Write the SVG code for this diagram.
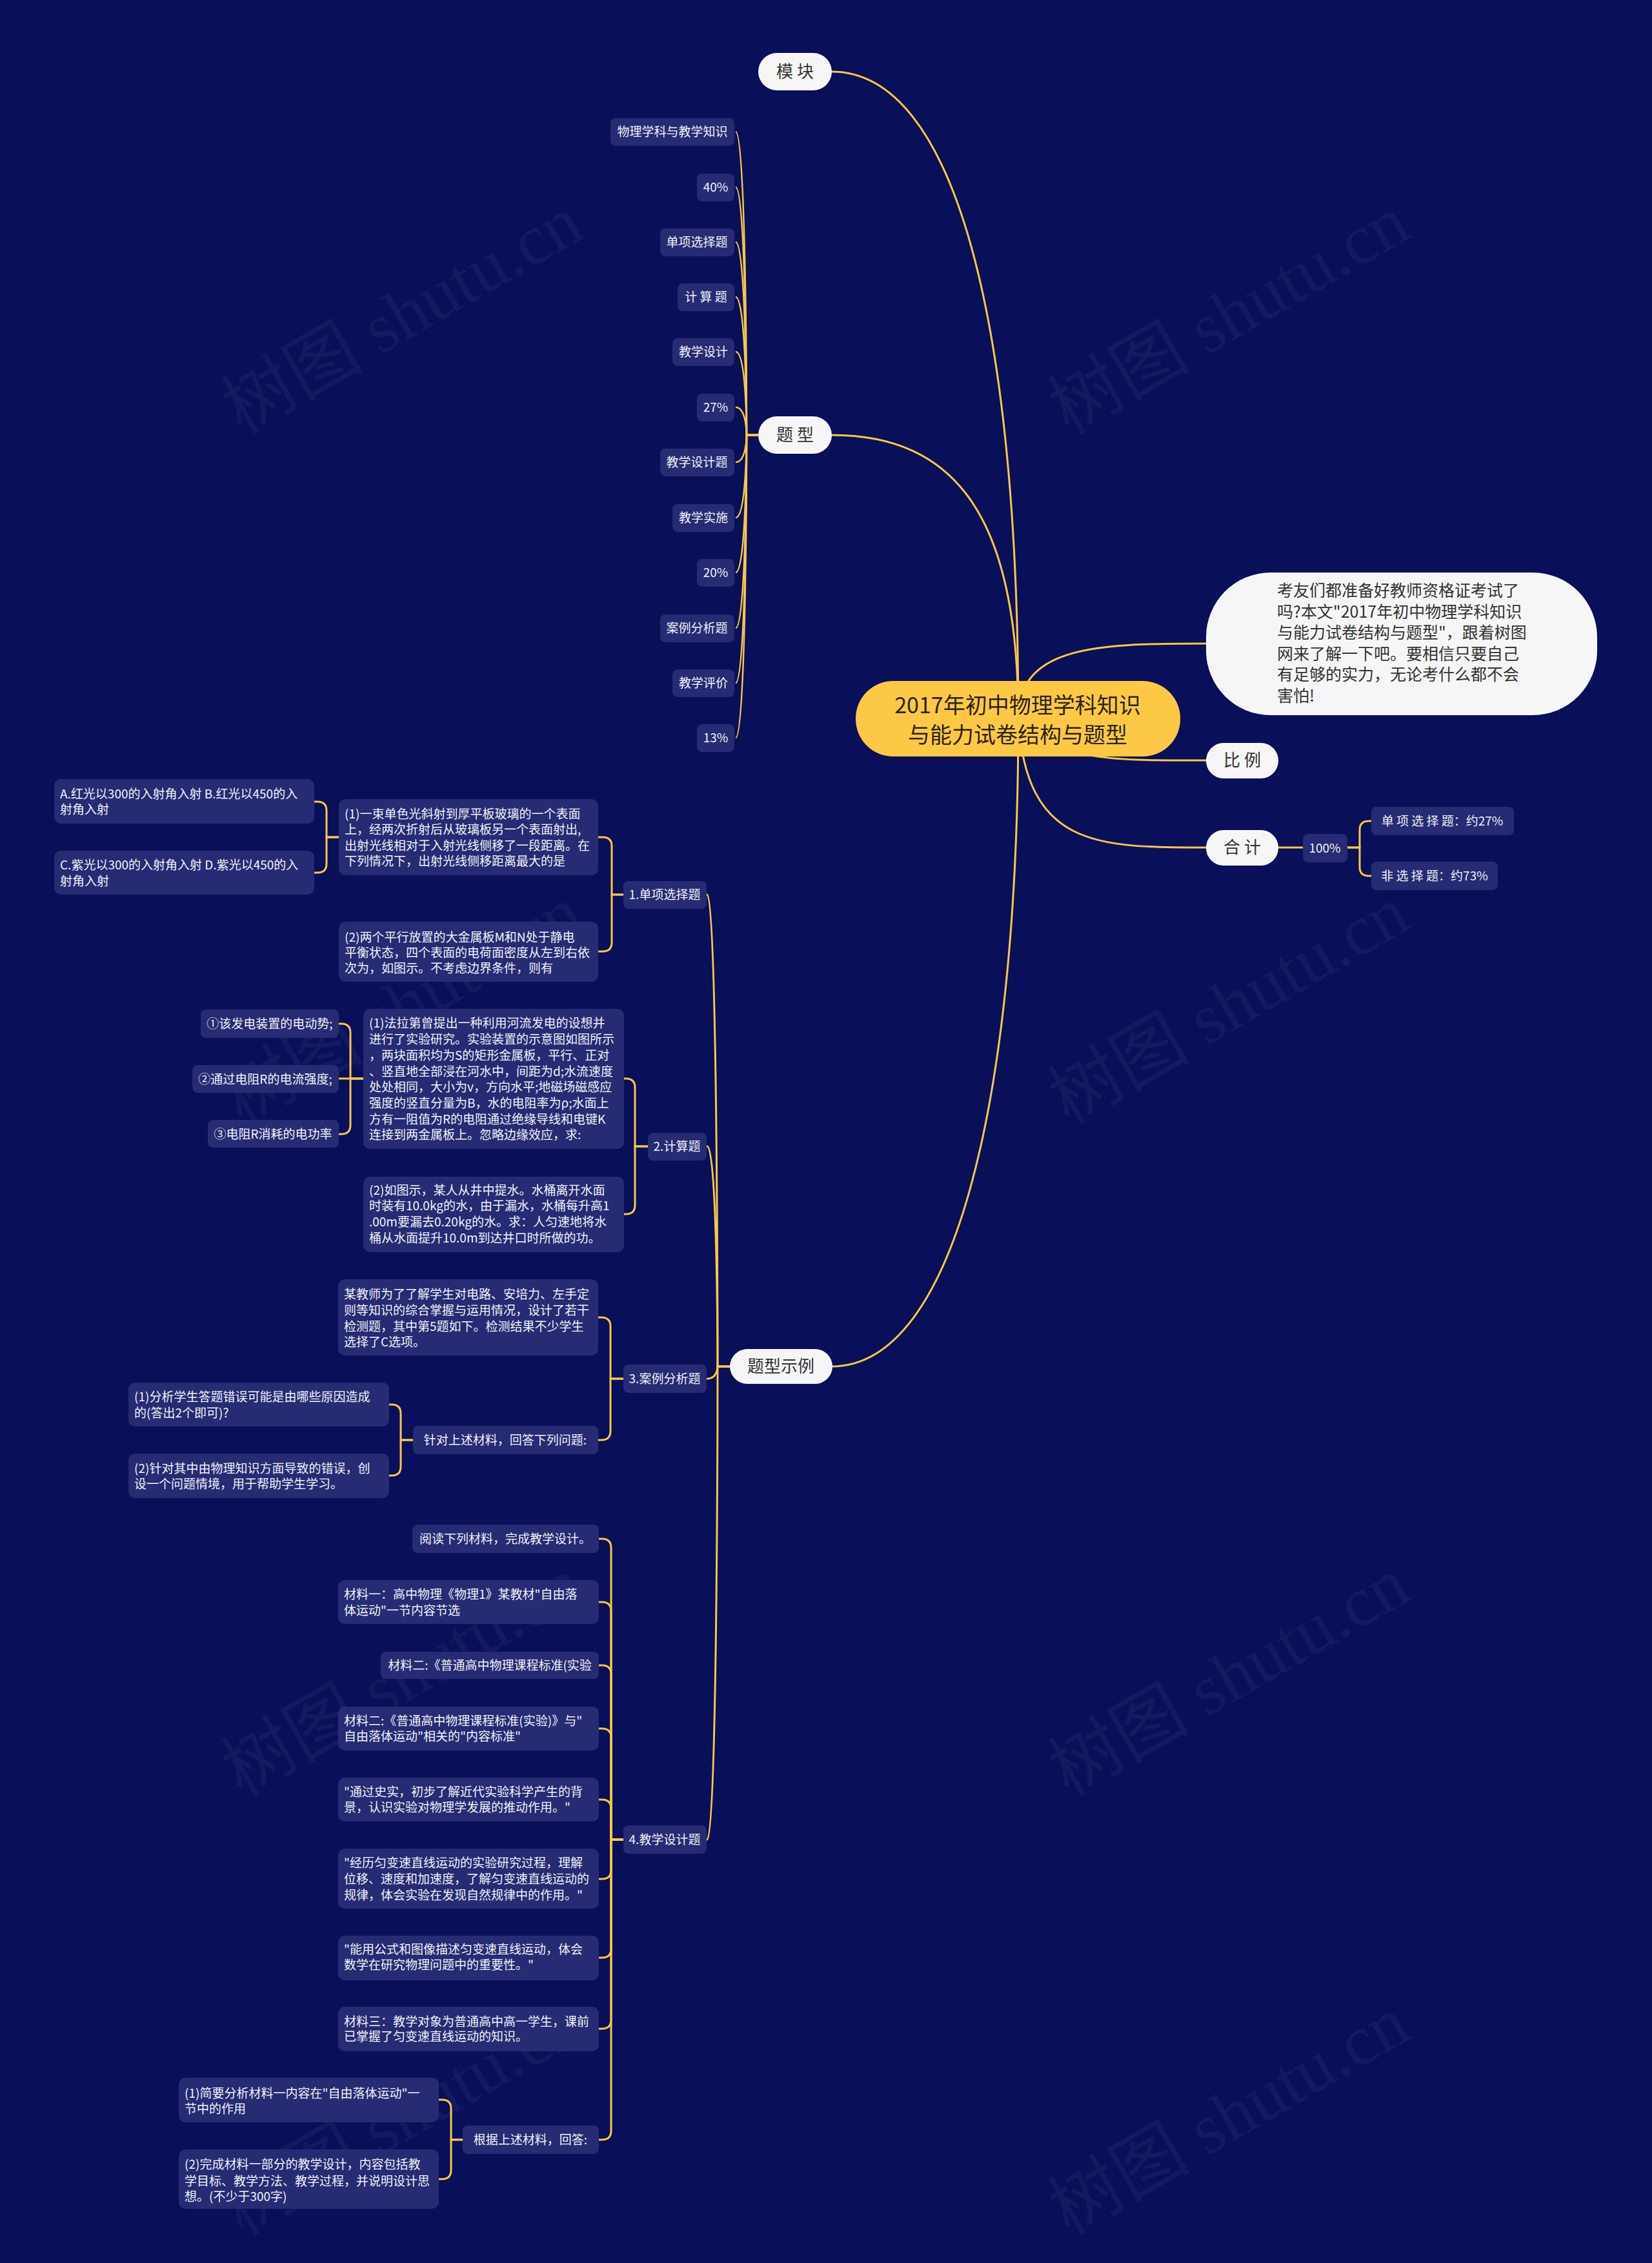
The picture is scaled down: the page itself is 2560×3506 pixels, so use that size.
<svg xmlns="http://www.w3.org/2000/svg" width="2560" height="3506" viewBox="0 0 2560 3506">
<style>
text{font-family:"Noto Sans CJK SC","Noto Sans",sans-serif}
.bg{fill:#0a0f59}
.wm{fill:#ffffff;opacity:0.04;font-family:"Liberation Serif","Noto Sans CJK SC",serif;font-size:110px}
.c{fill:none;stroke:#f8c848;stroke-width:3;stroke-linecap:round}
.cf{fill:none;stroke:#f8c848;stroke-width:2.5}
.n{fill:#262b73}
.nt{fill:#f2f2f8;font-size:19px}
.ntc{fill:#f2f2f8;font-size:19px;text-anchor:middle}
.p{fill:#f6f6f6}
.pt{fill:#333333;font-size:26px;text-anchor:middle}
.root{fill:#fdc945}
.rt{fill:#2b2410;font-size:34px;text-anchor:middle}
.dt{fill:#333333;font-size:25px}
</style>
<rect class="bg" x="0" y="0" width="2560" height="3506"/>
<g id="watermarks">
<text class="wm" transform="translate(642,520) rotate(-30)" text-anchor="middle">树图 shutu.cn</text>
<text class="wm" transform="translate(1923,520) rotate(-30)" text-anchor="middle">树图 shutu.cn</text>
<text class="wm" transform="translate(642,1590) rotate(-30)" text-anchor="middle">树图 shutu.cn</text>
<text class="wm" transform="translate(1923,1590) rotate(-30)" text-anchor="middle">树图 shutu.cn</text>
<text class="wm" transform="translate(642,2630) rotate(-30)" text-anchor="middle">树图 shutu.cn</text>
<text class="wm" transform="translate(1923,2630) rotate(-30)" text-anchor="middle">树图 shutu.cn</text>
<text class="wm" transform="translate(642,3310) rotate(-30)" text-anchor="middle">树图 shutu.cn</text>
<text class="wm" transform="translate(1923,3310) rotate(-30)" text-anchor="middle">树图 shutu.cn</text>
</g>
<g id="connectors">
<path class="c" d="M1289,111 C1480,111 1578,500 1578,1113"/>
<path class="c" d="M1289,674 C1480,674 1578,800 1578,1113"/>
<path class="c" d="M1289,2117 C1480,2117 1578,1700 1578,1113"/>
<path class="c" d="M1578,1113 C1578,1000 1700,997 1869,997"/>
<path class="c" d="M1578,1113 C1650,1178 1700,1178 1869,1178"/>
<path class="c" d="M1578,1113 C1590,1313 1700,1313 1869,1313"/>
<path class="c" d="M1981,1313 H2019"/>
<path class="c" d="M2088,1313 H2107 V1286 Q2107,1272 2121,1272 H2125"/>
<path class="c" d="M2088,1313 H2107 V1343 Q2107,1357 2121,1357 H2125"/>
<path class="cf" d="M1175,674 H1157 C1157,674 1157,204 1140,204"/>
<path class="cf" d="M1175,674 H1157 C1157,674 1157,290 1140,290"/>
<path class="cf" d="M1175,674 H1157 C1157,674 1157,375 1140,375"/>
<path class="cf" d="M1175,674 H1157 C1157,674 1157,460 1140,460"/>
<path class="cf" d="M1175,674 H1157 C1157,674 1157,545 1140,545"/>
<path class="cf" d="M1175,674 H1157 C1157,674 1157,631 1140,631"/>
<path class="cf" d="M1175,674 H1157 C1157,674 1157,716 1140,716"/>
<path class="cf" d="M1175,674 H1157 C1157,674 1157,802 1140,802"/>
<path class="cf" d="M1175,674 H1157 C1157,674 1157,887 1140,887"/>
<path class="cf" d="M1175,674 H1157 C1157,674 1157,973 1140,973"/>
<path class="cf" d="M1175,674 H1157 C1157,674 1157,1058 1140,1058"/>
<path class="cf" d="M1175,674 H1157 C1157,674 1157,1143 1140,1143"/>
<path class="c" d="M1131,2117 H1112 C1112,2117 1112,1386 1096,1386"/>
<path class="c" d="M1131,2117 H1112 C1112,2117 1112,1776 1096,1776"/>
<path class="c" d="M1131,2117 H1112 C1112,2117 1112,2136 1096,2136"/>
<path class="c" d="M1131,2117 H1112 C1112,2117 1112,2850 1096,2850"/>
<path class="c" d="M966,1386 H948 V1311 Q948,1297 934,1297 H927"/>
<path class="c" d="M966,1386 H948 V1460 Q948,1474 934,1474 H927"/>
<path class="c" d="M525,1297 H506 V1256 Q506,1242 492,1242 H487"/>
<path class="c" d="M525,1297 H506 V1338 Q506,1352 492,1352 H487"/>
<path class="c" d="M1004,1776 H984 V1685 Q984,1671 970,1671 H967"/>
<path class="c" d="M1004,1776 H984 V1867 Q984,1881 970,1881 H967"/>
<path class="c" d="M563,1671 H543 V1600 Q543,1586 529,1586 H525"/>
<path class="c" d="M563,1671 H525"/>
<path class="c" d="M563,1671 H543 V1743 Q543,1757 529,1757 H525"/>
<path class="c" d="M966,2136 H946 V2055 Q946,2041 932,2041 H927"/>
<path class="c" d="M966,2136 H946 V2217 Q946,2231 932,2231 H927"/>
<path class="c" d="M640,2231 H621 V2190 Q621,2176 607,2176 H603"/>
<path class="c" d="M640,2231 H621 V2272 Q621,2286 607,2286 H603"/>
<path class="c" d="M966,2850 H947 V2398 Q947,2384 933,2384 H928"/>
<path class="c" d="M966,2850 H947 V2496 Q947,2482 933,2482 H928"/>
<path class="c" d="M966,2850 H947 V2594 Q947,2580 933,2580 H928"/>
<path class="c" d="M966,2850 H947 V2692 Q947,2678 933,2678 H928"/>
<path class="c" d="M966,2850 H947 V2802 Q947,2788 933,2788 H928"/>
<path class="c" d="M966,2850 H947 V2897 Q947,2911 933,2911 H928"/>
<path class="c" d="M966,2850 H947 V3019 Q947,3033 933,3033 H928"/>
<path class="c" d="M966,2850 H947 V3129 Q947,3143 933,3143 H928"/>
<path class="c" d="M966,2850 H947 V3301 Q947,3315 933,3315 H928"/>
<path class="c" d="M717,3315 H699 V3267 Q699,3253 685,3253 H680"/>
<path class="c" d="M717,3315 H699 V3362 Q699,3376 685,3376 H680"/>
</g>
<g id="root"><rect class="root" x="1326" y="1055" width="503" height="117" rx="58"/><text class="rt" x="1577" y="1105">2017年初中物理学科知识</text><text class="rt" x="1577" y="1151">与能力试卷结构与题型</text></g>
<g id="desc"><rect class="p" x="1869" y="887" width="606" height="221" rx="100"/>
<text class="dt" x="1979" y="924">考友们都准备好教师资格证考试了</text>
<text class="dt" x="1979" y="957">吗?本文"2017年初中物理学科知识</text>
<text class="dt" x="1979" y="989">与能力试卷结构与题型"，跟着树图</text>
<text class="dt" x="1979" y="1022">网来了解一下吧。要相信只要自己</text>
<text class="dt" x="1979" y="1054">有足够的实力，无论考什么都不会</text>
<text class="dt" x="1979" y="1087">害怕!</text></g>
<g id="bili"><rect class="p" x="1869" y="1151" width="112" height="55" rx="27"/><text class="pt" x="1925" y="1187">比 例</text></g>
<g id="heji"><rect class="p" x="1869" y="1286" width="112" height="55" rx="27"/><text class="pt" x="1925" y="1322">合 计</text></g>
<g id="n100"><rect class="n" x="2019" y="1292" width="69" height="44" rx="8"/><text class="ntc" x="2053" y="1321">100%</text></g>
<g id="n27"><rect class="n" x="2125" y="1250" width="221" height="44" rx="8"/><text class="ntc" x="2235" y="1279">单 项 选 择 题：约27%</text></g>
<g id="n73"><rect class="n" x="2125" y="1335" width="196" height="44" rx="8"/><text class="ntc" x="2223" y="1364">非 选 择 题：约73%</text></g>
<g id="mokuai"><rect class="p" x="1175" y="82" width="114" height="58" rx="29"/><text class="pt" x="1232" y="120">模 块</text></g>
<g id="tixing"><rect class="p" x="1175" y="645" width="114" height="58" rx="29"/><text class="pt" x="1232" y="683">题 型</text></g>
<g id="tixingshili"><rect class="p" x="1131" y="2090" width="159" height="54" rx="27"/><text class="pt" x="1210" y="2126">题型示例</text></g>
<g id="t1"><rect class="n" x="946" y="183" width="192" height="43" rx="8"/><text class="ntc" x="1042" y="211">物理学科与教学知识</text></g>
<g id="t2"><rect class="n" x="1080" y="269" width="58" height="43" rx="8"/><text class="ntc" x="1109" y="297">40%</text></g>
<g id="t3"><rect class="n" x="1023" y="354" width="115" height="43" rx="8"/><text class="ntc" x="1080" y="382">单项选择题</text></g>
<g id="t4"><rect class="n" x="1050" y="439" width="88" height="43" rx="8"/><text class="ntc" x="1094" y="467">计 算 题</text></g>
<g id="t5"><rect class="n" x="1042" y="524" width="96" height="43" rx="8"/><text class="ntc" x="1090" y="552">教学设计</text></g>
<g id="t6"><rect class="n" x="1080" y="610" width="58" height="43" rx="8"/><text class="ntc" x="1109" y="638">27%</text></g>
<g id="t7"><rect class="n" x="1023" y="695" width="115" height="43" rx="8"/><text class="ntc" x="1080" y="723">教学设计题</text></g>
<g id="t8"><rect class="n" x="1042" y="781" width="96" height="43" rx="8"/><text class="ntc" x="1090" y="809">教学实施</text></g>
<g id="t9"><rect class="n" x="1080" y="866" width="58" height="43" rx="8"/><text class="ntc" x="1109" y="894">20%</text></g>
<g id="t10"><rect class="n" x="1023" y="952" width="115" height="43" rx="8"/><text class="ntc" x="1080" y="980">案例分析题</text></g>
<g id="t11"><rect class="n" x="1042" y="1037" width="96" height="43" rx="8"/><text class="ntc" x="1090" y="1065">教学评价</text></g>
<g id="t12"><rect class="n" x="1080" y="1122" width="58" height="43" rx="8"/><text class="ntc" x="1109" y="1150">13%</text></g>
<g id="s1"><rect class="n" x="966" y="1365" width="129" height="43" rx="8"/><text class="ntc" x="1030" y="1393">1.单项选择题</text></g>
<g id="s2"><rect class="n" x="1004" y="1755" width="91" height="43" rx="8"/><text class="ntc" x="1049" y="1783">2.计算题</text></g>
<g id="s3"><rect class="n" x="966" y="2114" width="129" height="44" rx="8"/><text class="ntc" x="1030" y="2143">3.案例分析题</text></g>
<g id="s4"><rect class="n" x="966" y="2828" width="129" height="44" rx="8"/><text class="ntc" x="1030" y="2857">4.教学设计题</text></g>
<g id="q1a"><rect class="n" x="525" y="1238" width="402" height="118" rx="10"/>
<text class="nt" x="534" y="1268">(1)一束单色光斜射到厚平板玻璃的一个表面</text>
<text class="nt" x="534" y="1292">上，经两次折射后从玻璃板另一个表面射出,</text>
<text class="nt" x="534" y="1317">出射光线相对于入射光线侧移了一段距离。在</text>
<text class="nt" x="534" y="1341">下列情况下，出射光线侧移距离最大的是</text></g>
<g id="q1b"><rect class="n" x="525" y="1428" width="402" height="93" rx="10"/>
<text class="nt" x="534" y="1459">(2)两个平行放置的大金属板M和N处于静电</text>
<text class="nt" x="534" y="1483">平衡状态，四个表面的电荷面密度从左到右依</text>
<text class="nt" x="534" y="1507">次为，如图示。不考虑边界条件，则有</text></g>
<g id="q1aA"><rect class="n" x="84" y="1207" width="403" height="69" rx="10"/>
<text class="nt" x="93" y="1237">A.红光以300的入射角入射 B.红光以450的入</text>
<text class="nt" x="93" y="1261">射角入射</text></g>
<g id="q1aC"><rect class="n" x="84" y="1318" width="403" height="68" rx="10"/>
<text class="nt" x="93" y="1347">C.紫光以300的入射角入射 D.紫光以450的入</text>
<text class="nt" x="93" y="1372">射角入射</text></g>
<g id="q2a"><rect class="n" x="563" y="1563" width="404" height="217" rx="10"/>
<text class="nt" x="572" y="1592">(1)法拉第曾提出一种利用河流发电的设想并</text>
<text class="nt" x="572" y="1617">进行了实验研究。实验装置的示意图如图所示</text>
<text class="nt" x="572" y="1642">，两块面积均为S的矩形金属板，平行、正对</text>
<text class="nt" x="572" y="1667">、竖直地全部浸在河水中，间距为d;水流速度</text>
<text class="nt" x="572" y="1691">处处相同，大小为v，方向水平;地磁场磁感应</text>
<text class="nt" x="572" y="1716">强度的竖直分量为B，水的电阻率为ρ;水面上</text>
<text class="nt" x="572" y="1741">方有一阻值为R的电阻通过绝缘导线和电键K</text>
<text class="nt" x="572" y="1765">连接到两金属板上。忽略边缘效应，求:</text></g>
<g id="q2b"><rect class="n" x="563" y="1823" width="404" height="117" rx="10"/>
<text class="nt" x="572" y="1851">(2)如图示，某人从井中提水。水桶离开水面</text>
<text class="nt" x="572" y="1875">时装有10.0kg的水，由于漏水，水桶每升高1</text>
<text class="nt" x="572" y="1900">.00m要漏去0.20kg的水。求：人匀速地将水</text>
<text class="nt" x="572" y="1925">桶从水面提升10.0m到达井口时所做的功。</text></g>
<g id="q2a1"><rect class="n" x="311" y="1564" width="214" height="44" rx="8"/><text class="ntc" x="418" y="1593">①该发电装置的电动势;</text></g>
<g id="q2a2"><rect class="n" x="298" y="1650" width="227" height="43" rx="8"/><text class="ntc" x="411" y="1679">②通过电阻R的电流强度;</text></g>
<g id="q2a3"><rect class="n" x="322" y="1735" width="203" height="43" rx="8"/><text class="ntc" x="423" y="1764">③电阻R消耗的电功率</text></g>
<g id="q3a"><rect class="n" x="524" y="1982" width="403" height="118" rx="10"/>
<text class="nt" x="533" y="2012">某教师为了了解学生对电路、安培力、左手定</text>
<text class="nt" x="533" y="2037">则等知识的综合掌握与运用情况，设计了若干</text>
<text class="nt" x="533" y="2062">检测题，其中第5题如下。检测结果不少学生</text>
<text class="nt" x="533" y="2086">选择了C选项。</text></g>
<g id="q3b"><rect class="n" x="640" y="2209" width="287" height="44" rx="8"/><text class="ntc" x="783" y="2238">针对上述材料，回答下列问题:</text></g>
<g id="q3b1"><rect class="n" x="199" y="2142" width="404" height="68" rx="10"/>
<text class="nt" x="208" y="2171">(1)分析学生答题错误可能是由哪些原因造成</text>
<text class="nt" x="208" y="2196">的(答出2个即可)?</text></g>
<g id="q3b2"><rect class="n" x="199" y="2252" width="404" height="69" rx="10"/>
<text class="nt" x="208" y="2282">(2)针对其中由物理知识方面导致的错误，创</text>
<text class="nt" x="208" y="2306">设一个问题情境，用于帮助学生学习。</text></g>
<g id="q4a"><rect class="n" x="639" y="2362" width="289" height="44" rx="8"/><text class="ntc" x="783" y="2391">阅读下列材料，完成教学设计。</text></g>
<g id="q4b"><rect class="n" x="524" y="2448" width="404" height="68" rx="10"/>
<text class="nt" x="533" y="2477">材料一：高中物理《物理1》某教材"自由落</text>
<text class="nt" x="533" y="2502">体运动"一节内容节选</text></g>
<g id="q4c"><rect class="n" x="590" y="2559" width="338" height="42" rx="8"/><text class="ntc" x="759" y="2587">材料二:《普通高中物理课程标准(实验</text></g>
<g id="q4d"><rect class="n" x="524" y="2644" width="404" height="68" rx="10"/>
<text class="nt" x="533" y="2673">材料二:《普通高中物理课程标准(实验)》与"</text>
<text class="nt" x="533" y="2697">自由落体运动"相关的"内容标准"</text></g>
<g id="q4e"><rect class="n" x="524" y="2754" width="404" height="68" rx="10"/>
<text class="nt" x="533" y="2783">"通过史实，初步了解近代实验科学产生的背</text>
<text class="nt" x="533" y="2807">景，认识实验对物理学发展的推动作用。"</text></g>
<g id="q4f"><rect class="n" x="524" y="2864" width="404" height="93" rx="10"/>
<text class="nt" x="533" y="2893">"经历匀变速直线运动的实验研究过程，理解</text>
<text class="nt" x="533" y="2918">位移、速度和加速度，了解匀变速直线运动的</text>
<text class="nt" x="533" y="2943">规律，体会实验在发现自然规律中的作用。"</text></g>
<g id="q4g"><rect class="n" x="524" y="2999" width="404" height="69" rx="10"/>
<text class="nt" x="533" y="3027">"能用公式和图像描述匀变速直线运动，体会</text>
<text class="nt" x="533" y="3051">数学在研究物理问题中的重要性。"</text></g>
<g id="q4h"><rect class="n" x="524" y="3109" width="404" height="69" rx="10"/>
<text class="nt" x="533" y="3139">材料三：教学对象为普通高中高一学生，课前</text>
<text class="nt" x="533" y="3162">已掌握了匀变速直线运动的知识。</text></g>
<g id="q4i"><rect class="n" x="717" y="3293" width="211" height="44" rx="8"/><text class="ntc" x="822" y="3322">根据上述材料，回答:</text></g>
<g id="q4i1"><rect class="n" x="277" y="3219" width="403" height="69" rx="10"/>
<text class="nt" x="286" y="3250">(1)简要分析材料一内容在"自由落体运动"一</text>
<text class="nt" x="286" y="3274">节中的作用</text></g>
<g id="q4i2"><rect class="n" x="277" y="3330" width="403" height="92" rx="10"/>
<text class="nt" x="286" y="3360">(2)完成材料一部分的教学设计，内容包括教</text>
<text class="nt" x="286" y="3386">学目标、教学方法、教学过程，并说明设计思</text>
<text class="nt" x="286" y="3410">想。(不少于300字)</text></g>
</svg>
